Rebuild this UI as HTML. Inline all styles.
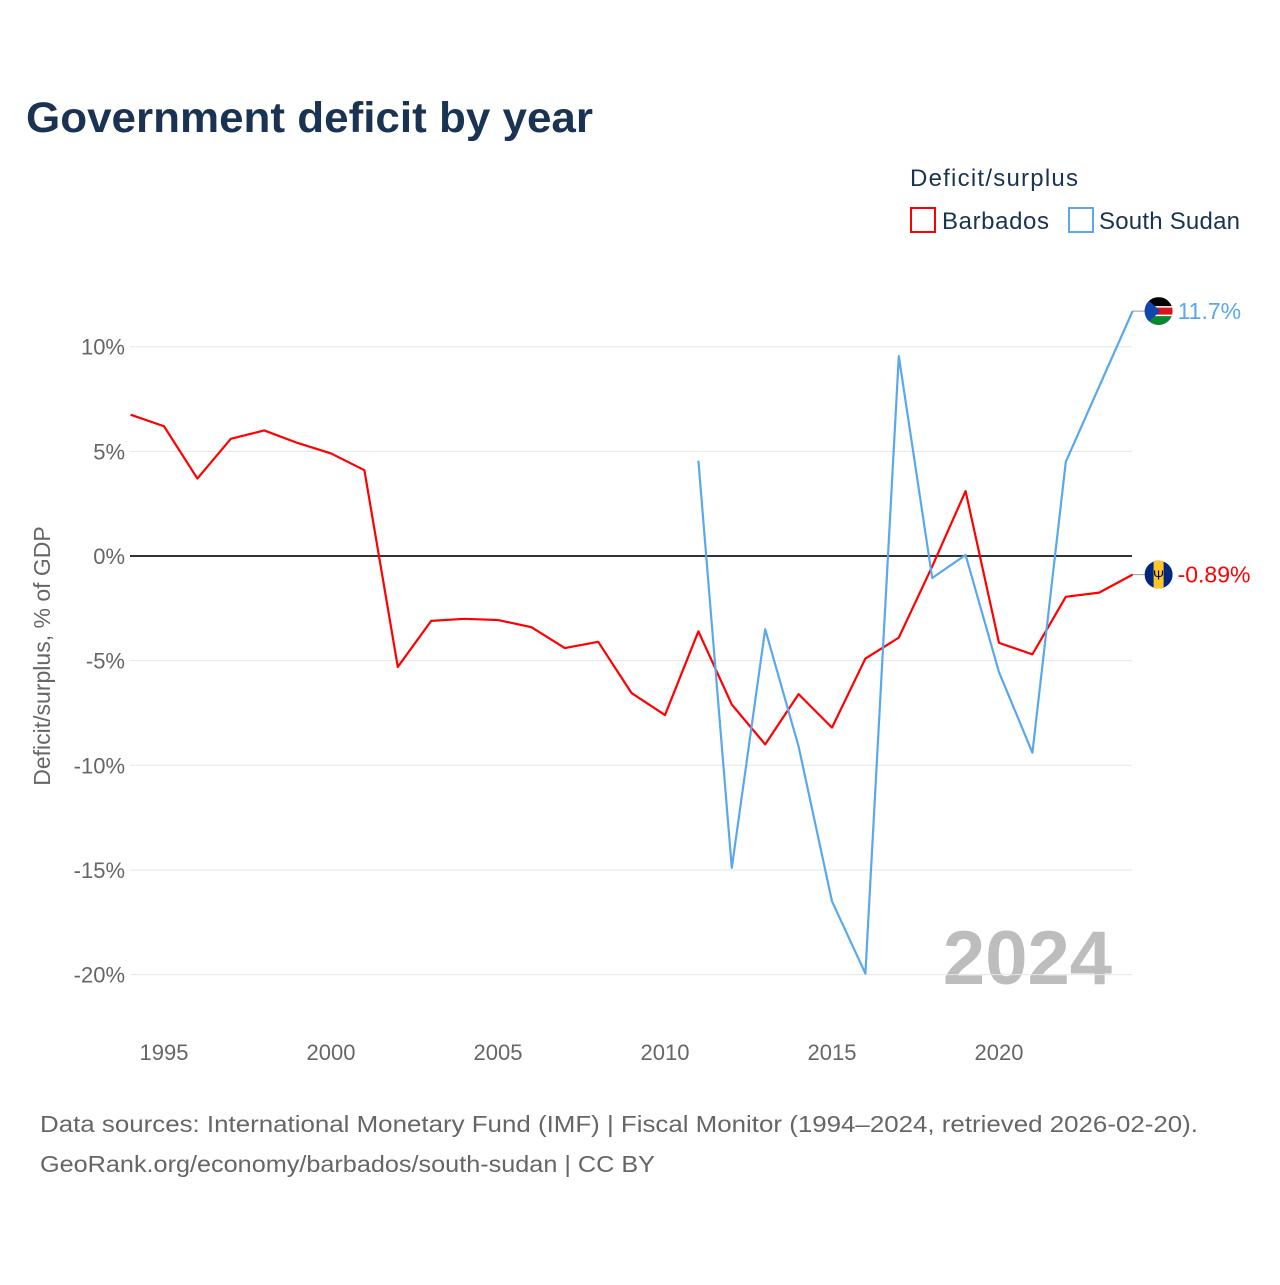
<!DOCTYPE html>
<html><head><meta charset="utf-8"><style>
body{margin:0;background:#fff;font-family:"Liberation Sans",sans-serif;}
svg text{font-family:"Liberation Sans",sans-serif;}
</style></head><body>
<svg id="chart" width="1280" height="1280" xmlns="http://www.w3.org/2000/svg">
<defs>
<clipPath id="clipSS"><circle cx="0" cy="0" r="14"/></clipPath>
</defs>
<text x="26" y="132" font-size="43" font-weight="bold" fill="#1b3352" textLength="567" lengthAdjust="spacingAndGlyphs">Government deficit by year</text>
<text x="910" y="186" font-size="24" fill="#1b3352" textLength="168">Deficit/surplus</text>
<rect x="911" y="208" width="24" height="24" fill="none" stroke="#ff0000" stroke-width="2"/>
<text x="942" y="229" font-size="24" fill="#1b3352" textLength="107">Barbados</text>
<rect x="1069" y="208" width="24" height="24" fill="none" stroke="#5aa8ec" stroke-width="2"/>
<text x="1099" y="229" font-size="24" fill="#1b3352" textLength="141">South Sudan</text>
<text transform="translate(50,656) rotate(-90)" text-anchor="middle" font-size="23" fill="#666">Deficit/surplus, % of GDP</text>
<text x="1112" y="984" text-anchor="end" font-size="76" font-weight="bold" fill="#bdbdbd">2024</text>
<g id="grid"></g><g id="series"></g>
<text x="40" y="1132" font-size="23" fill="#666" textLength="1158" lengthAdjust="spacingAndGlyphs">Data sources: International Monetary Fund (IMF) | Fiscal Monitor (1994–2024, retrieved 2026-02-20).</text>
<text x="40" y="1172" font-size="23" fill="#666" textLength="615" lengthAdjust="spacingAndGlyphs">GeoRank.org/economy/barbados/south-sudan | CC BY</text>
</svg>
<script>
const yTicks=[10,5,0,-5,-10,-15,-20];
const xTicks=[1995,2000,2005,2010,2015,2020];
const barbadosYears=[1994,1995,1996,1997,1998,1999,2000,2001,2002,2003,2004,2005,2006,2007,2008,2009,2010,2011,2012,2013,2014,2015,2016,2017,2018,2019,2020,2021,2022,2023,2024];
const barbadosValues=[6.75,6.2,3.7,5.6,6.0,5.4,4.9,4.1,-5.3,-3.1,-3.0,-3.06,-3.4,-4.4,-4.1,-6.55,-7.6,-3.6,-7.1,-9.0,-6.6,-8.2,-4.9,-3.9,-0.5,3.1,-4.15,-4.7,-1.95,-1.75,-0.89];
const sudanYears=[2011,2012,2013,2014,2015,2016,2017,2018,2019,2020,2021,2022,2023,2024];
const sudanValues=[4.55,-14.9,-3.5,-9.1,-16.5,-19.95,9.55,-1.05,0.05,-5.55,-9.4,4.5,8.1,11.7];
const NS="http://www.w3.org/2000/svg";
const xs=y=>130.6+(y-1994)*33.4;
const ys=v=>556-v*20.93;
const grid=document.getElementById('grid'),series=document.getElementById('series');
function mk(tag,attrs,parent,txt){const e=document.createElementNS(NS,tag);for(const k in attrs)e.setAttribute(k,attrs[k]);if(txt!==undefined)e.textContent=txt;parent.appendChild(e);return e;}
yTicks.forEach(t=>{
 const l=mk('line',{x1:130,x2:1132,y1:ys(t),y2:ys(t),stroke:t===0?'#333':'#e6e6e6','stroke-width':t===0?2:1},grid);
 
 
 const tx=mk('text',{x:125,y:ys(t)+8,'text-anchor':'end','font-size':22,fill:'#666'},grid,t+'%');
 
 
});
xTicks.forEach(t=>{
 const tx=mk('text',{x:xs(t),y:1060,'text-anchor':'middle','font-size':22,fill:'#666'},grid,String(t));
 
 
});
function line(years,vals,color,name,stripes){
 const p=mk('polyline',{points:years.map((y,i)=>xs(y)+','+ys(vals[i])).join(' '),fill:'none',stroke:color,'stroke-width':2.2,'stroke-linejoin':'round'},series);
 
 
 const lx=xs(years[years.length-1]),ly=ys(vals[vals.length-1]);
 mk('line',{x1:lx,x2:lx+14,y1:ly,y2:ly,stroke:'#999','stroke-width':1},series);
 const g=mk('g',{transform:'translate('+(lx+26)+','+ly+')','clip-path':'url(#clipSS)'},series);
 
 
 stripes(g);
 const v=vals[vals.length-1];
 const t=mk('text',{x:lx+45,y:ly+8,'font-size':23,fill:color},series,(Math.abs(v)<1?v.toFixed(2):v.toFixed(1))+'%');
 
 
}
line(barbadosYears,barbadosValues,'#ff0000','barbados-line',g=>{
 mk('rect',{x:-14,y:-14,width:28,height:28,fill:'#00267f'},g);
 mk('rect',{x:-5,y:-14,width:10,height:28,fill:'#ffc726'},g);
 mk('text',{x:0,y:5,'text-anchor':'middle','font-size':13,fill:'#000'},g,'Ψ');
});
line(sudanYears,sudanValues,'#5aa8ec','south-sudan-line',g=>{
 mk('rect',{x:-14,y:-14,width:28,height:10,fill:'#000'},g);
 mk('rect',{x:-14,y:-4,width:28,height:8,fill:'#da121a'},g);
 mk('rect',{x:-14,y:4,width:28,height:10,fill:'#078930'},g);
 mk('rect',{x:-14,y:-5,width:28,height:1.5,fill:'#fff'},g);
 mk('rect',{x:-14,y:3.5,width:28,height:1.5,fill:'#fff'},g);
 mk('polygon',{points:'-14,-14 2,0 -14,14',fill:'#0f47af'},g);
});
</script>
</body></html>
